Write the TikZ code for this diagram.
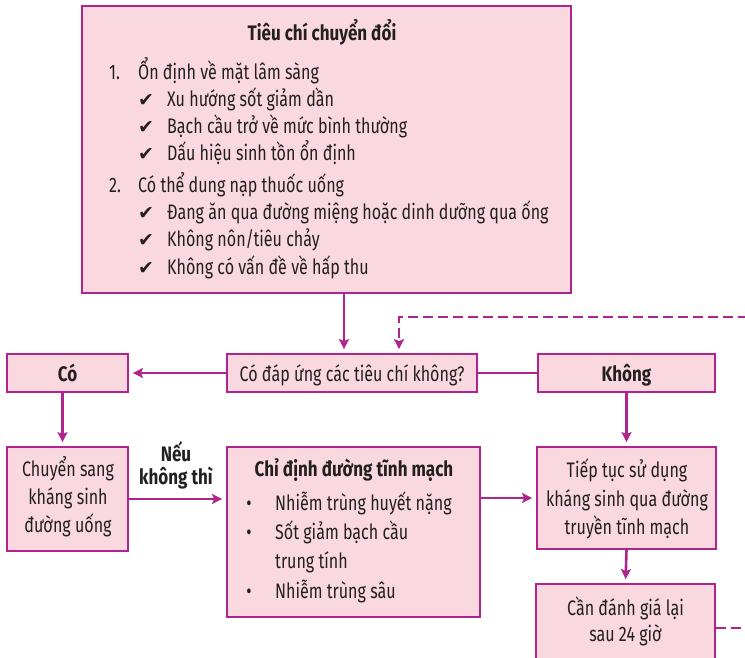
\documentclass[tikz,border=0pt]{standalone}
\usepackage{fontspec}
\setmainfont[FakeStretch=0.765]{Fira Sans}
\newfontfamily\boldfam[FakeStretch=0.81]{Fira Sans}
\newfontfamily\symfont{DejaVu Sans}
\usetikzlibrary{arrows.meta}
\definecolor{mag}{HTML}{B0248D}
\definecolor{pinkfill}{HTML}{F9D8E0}
\definecolor{ink}{HTML}{231F20}
\begin{document}
\begin{tikzpicture}[x=1pt,y=-1pt,
  box/.style={draw=mag,fill=pinkfill,line width=1.8pt,inner sep=0pt,rectangle},
  arr/.style={draw=mag,line width=2.6pt,-{Stealth[length=10pt,width=10pt,inset=2pt]},shorten >=4pt},
  plain/.style={draw=mag,line width=2.6pt},
  dasharr/.style={draw=mag,line width=2.6pt,dash pattern=on 10pt off 5pt,-{Stealth[length=10pt,width=10pt,inset=2pt]},shorten >=4pt},
  dashline/.style={draw=mag,line width=2.6pt,dash pattern=on 10pt off 5pt},
  txt/.style={font=\fontsize{21}{25}\selectfont,text=ink,inner sep=0pt},
  btxt/.style={font=\boldfam\fontsize{21}{25}\selectfont\bfseries,text=ink,inner sep=0pt},
  chk/.style={font=\symfont\fontsize{19}{22}\selectfont,text=ink,inner sep=0pt}]
\path[use as bounding box,clip] (0,0) rectangle (745,658);
\fill[white] (0,0) rectangle (745,658);

% boxes
\node[box,minimum width=489pt,minimum height=287pt] (top) at (326.5,149.5) {};
\node[box,minimum width=121pt,minimum height=38pt] (co) at (67.5,373) {};
\node[box,minimum width=250pt,minimum height=38pt] (q) at (352,373) {};
\node[box,minimum width=177pt,minimum height=38pt] (khong) at (626.5,373) {};
\node[box,minimum width=121pt,minimum height=104pt] (chuyen) at (67.5,499) {};
\node[box,minimum width=253pt,minimum height=170pt] (iv) at (353.5,532) {};
\node[box,minimum width=179pt,minimum height=102pt] (tiep) at (626.5,498) {};
\node[box,minimum width=179pt,minimum height=106pt] (bot) at (625.5,637) {};

% top box text
\node[btxt,anchor=base] (title) at (322,41) {Tiêu chí chuyển đổi};
\node[txt,anchor=base west] (n1) at (109,80) {1.};
\node[txt,anchor=base west] (l1) at (138,80) {Ổn định về mặt lâm sàng};
\node[chk,anchor=base west] (c1) at (138,107) {✔};
\node[txt,anchor=base west] (l1a) at (167,107) {Xu hướng sốt giảm dần};
\node[chk,anchor=base west] (c2) at (138,134) {✔};
\node[txt,anchor=base west] (l1b) at (167,134) {Bạch cầu trở về mức bình thường};
\node[chk,anchor=base west] (c3) at (138,161) {✔};
\node[txt,anchor=base west] (l1c) at (167,161) {Dấu hiệu sinh tồn ổn định};
\node[txt,anchor=base west] (n2) at (109,193) {2.};
\node[txt,anchor=base west] (l2) at (138,193) {Có thể dung nạp thuốc uống};
\node[chk,anchor=base west] (c4) at (138,220) {✔};
\node[txt,anchor=base west] (l2a) at (167,220) {Đang ăn qua đường miệng hoặc dinh dưỡng qua ống};
\node[chk,anchor=base west] (c5) at (138,247) {✔};
\node[txt,anchor=base west] (l2b) at (167,247) {Không nôn/tiêu chảy};
\node[chk,anchor=base west] (c6) at (138,274) {✔};
\node[txt,anchor=base west] (l2c) at (167,274) {Không có vấn đề về hấp thu};

% middle row text
\node[btxt,anchor=base] (cot) at (67.5,381) {Có};
\node[txt,anchor=base] (qt) at (352,381) {Có đáp ứng các tiêu chí không?};
\node[btxt,anchor=base] (khongt) at (626.5,381) {Không};

% lower text
\node[txt,anchor=base] (ch1) at (68,476) {Chuyển sang};
\node[txt,anchor=base] (ch2) at (68,504) {kháng sinh};
\node[txt,anchor=base] (ch3) at (68,532) {đường uống};

\node[btxt,anchor=base] (neu1) at (176,461) {Nếu};
\node[btxt,anchor=base] (neu2) at (176,484) {không thì};

\node[btxt,anchor=base] (ivt) at (354,476) {Chỉ định đường tĩnh mạch};
\node[txt,anchor=base] (b1) at (249,510) {•};
\node[txt,anchor=base west] (i1) at (275,510) {Nhiễm trùng huyết nặng};
\node[txt,anchor=base] (b2) at (249,539) {•};
\node[txt,anchor=base west] (i2) at (275,539) {Sốt giảm bạch cầu};
\node[txt,anchor=base west] (i2b) at (275,568) {trung tính};
\node[txt,anchor=base] (b3) at (249,598) {•};
\node[txt,anchor=base west] (i3) at (275,598) {Nhiễm trùng sâu};

\node[txt,anchor=base] (tp1) at (627,477) {Tiếp tục sử dụng};
\node[txt,anchor=base] (tp2) at (627,506) {kháng sinh qua đường};
\node[txt,anchor=base] (tp3) at (627,534) {truyền tĩnh mạch};

\node[txt,anchor=base] (bt1) at (625.5,615) {Cần đánh giá lại};
\node[txt,anchor=base] (bt2) at (625.5,641) {sau 24 giờ};

% connectors
\coordinate (dA) at (748,317);
\coordinate (dB) at (748,628);
\draw[arr] ([xshift=-8pt]q.north |- top.south) -- ([xshift=-8pt]q.north);
\draw[dasharr] (dA) -- ([xshift=47pt]q.north |- dA) -- ([xshift=47pt]q.north);
\draw[arr] (q.west) -- (co.east);
\draw[plain] (q.east) -- (khong.west);
\draw[arr] ([xshift=-5pt]co.south) -- ([xshift=-5pt]chuyen.north);
\draw[arr] (khong.south) -- (tiep.north);
\draw[arr] (chuyen.east) -- (chuyen.east -| iv.west);
\draw[arr] (iv.east |- tiep.west) -- (tiep.west);
\draw[arr] (tiep.south) -- (bot.north);
\draw[dashline] (bot.east |- dB) -- (dB);
\end{tikzpicture}
\end{document}
